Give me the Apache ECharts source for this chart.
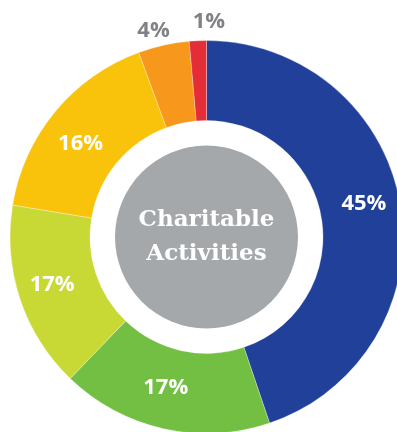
<!DOCTYPE html>
<html>
<head>
<meta charset="utf-8">
<script src="https://cdn.jsdelivr.net/npm/echarts@6/dist/echarts.min.js"></script>
<style>html,body{margin:0;padding:0;background:#fff;}#c{width:397px;height:432px;}</style>
</head>
<body>
<div id="c"></div>
<script>
// Slice shares as drawn in the picture (clockwise from 12 o'clock)
var categories = ['Blue', 'Green', 'Yellow-green', 'Yellow', 'Orange', 'Red'];
var shares = [44.8, 17.4, 15.4, 16.8, 4.2, 1.4];
var labels = ['45%', '17%', '17%', '16%', '4%', '1%'];
var colors = ['#21409a', '#72bf44', '#c8d935', '#f9c30b', '#f7981d', '#e52d38'];
var centerTitle = 'Charitable\nActivities';

// label nudges (styling, not data)
var labelOffsets = [[0, -7], [-6, -5], [-3, -3], [-3, 8], [-5, 8], [12, 5]];

var chart = echarts.init(document.getElementById('c'), null, {renderer: 'canvas'});
var C = [206.5, 237];

var mainData = shares.map(function (v, i) {
  return {
    name: categories[i], value: v,
    itemStyle: {color: colors[i]},
    label: {show: i < 4, formatter: labels[i], offset: labelOffsets[i]}
  };
});
var outerData = shares.map(function (v, i) {
  return {
    name: categories[i], value: v,
    itemStyle: {color: 'rgba(0,0,0,0)'},
    label: {show: i >= 4, formatter: labels[i], offset: labelOffsets[i]}
  };
});

chart.setOption({
  animation: false,
  series: [
    {
      type: 'pie', center: C, radius: [116.5, 196.5], startAngle: 90, clockwise: true,
      silent: true, avoidLabelOverlap: false,
      itemStyle: {borderColor: '#fff', borderWidth: 0.3},
      label: {position: 'inside', color: '#fff', fontFamily: 'Open Sans', fontWeight: 'bold', fontSize: 22},
      labelLine: {show: false},
      data: mainData
    },
    {
      type: 'pie', center: C, radius: [200, 234], startAngle: 90, clockwise: true,
      silent: true, avoidLabelOverlap: false,
      label: {position: 'inside', color: '#808285', fontFamily: 'Open Sans', fontWeight: 'bold', fontSize: 22},
      labelLine: {show: false},
      data: outerData
    },
    {
      type: 'pie', center: C, radius: [0, 91.5], silent: true,
      label: {position: 'center', color: '#fff', fontFamily: 'DejaVu Serif', fontWeight: 'bold', fontSize: 23, lineHeight: 34, formatter: centerTitle},
      labelLine: {show: false},
      data: [{name: 'Charitable Activities', value: 100, itemStyle: {color: '#a5a8ab'}}]
    }
  ]
});
</script>
</body>
</html>
